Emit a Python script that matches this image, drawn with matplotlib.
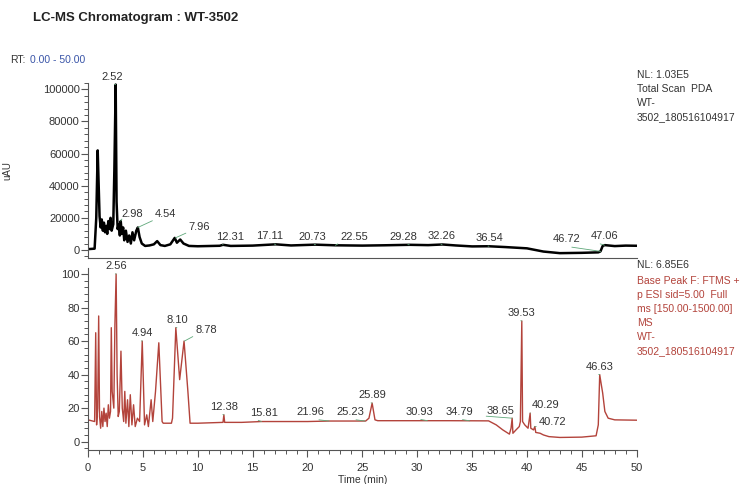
import matplotlib
matplotlib.use("Agg")
import matplotlib.pyplot as plt
from matplotlib.ticker import MultipleLocator

plt.rcParams['font.family'] = ['Liberation Sans', 'DejaVu Sans']

# --- data --------------------------------------------------------------
# top trace: total scan PDA (uAU)
pda_t = [0.0, 0.6, 0.75, 0.88, 0.95, 1.05, 1.15, 1.25, 1.35, 1.45, 1.55, 1.65,
         1.75, 1.85, 1.95, 2.05, 2.15, 2.3, 2.4, 2.52, 2.6, 2.7, 2.8, 2.9,
         2.98, 3.08, 3.2, 3.3, 3.45, 3.6, 3.75, 3.9, 4.05, 4.2, 4.4, 4.54,
         4.7, 4.9, 5.2, 5.6, 6.0, 6.3, 6.6, 7.0, 7.5, 7.9, 8.1, 8.4, 8.7,
         9.2, 10, 12, 12.3, 13, 15, 17.1, 18.5, 20.7, 22.5, 25, 27, 29.3,
         31, 32.3, 33.5, 35, 36.5, 38, 40, 41.5, 43, 45, 46.5, 46.7, 46.9,
         47.1, 48, 49, 50]
pda_v = [500, 800, 20000, 62000, 45000, 21000, 14000, 19000, 12000, 17000,
         11000, 15000, 10000, 18000, 13000, 20000, 12000, 16000, 50000,
         103000, 30000, 13000, 16000, 9000, 18000, 10000, 14000, 6000, 12000,
         5000, 9000, 4000, 11000, 6000, 12000, 14000, 8000, 4000, 2500, 2800,
         3500, 5500, 3000, 2500, 3500, 7500, 4500, 6500, 4000, 2500, 2300,
         2600, 3200, 2500, 2700, 3500, 2800, 3300, 2900, 2700, 2900, 3200,
         3000, 3400, 2800, 2200, 2300, 1800, 1000, -1000, -2000, -1800,
         -1500, -900, 2500, 3000, 2400, 2700, 2600]

# bottom trace: base peak, relative abundance
bp_t = [0.0, 0.6, 0.7, 0.78, 0.88, 0.97, 1.05, 1.15, 1.25, 1.35, 1.45, 1.55,
        1.65, 1.75, 1.85, 1.95, 2.05, 2.12, 2.2, 2.35, 2.45, 2.56, 2.65,
        2.75, 2.85, 3.0, 3.12, 3.25, 3.35, 3.45, 3.6, 3.72, 3.85, 4.0, 4.15,
        4.3, 4.5, 4.7, 4.94, 5.15, 5.35, 5.5, 5.75, 5.9, 6.15, 6.45, 6.75,
        6.85, 7.6, 7.7, 8.0, 8.35, 8.75, 9.1, 9.3, 10, 12.3, 12.38, 12.45,
        14, 15.8, 18, 20, 22, 25.3, 25.6, 25.89, 26.15, 26.4, 30, 33, 36.5,
        37.2, 37.8, 38.4, 38.55, 38.65, 38.72, 39.0, 39.3, 39.4, 39.53, 39.6,
        39.8, 40.1, 40.29, 40.35, 40.6, 40.72, 40.8, 41.2, 41.5, 42, 43, 45,
        46.3, 46.5, 46.63, 46.75, 46.9, 47.1, 47.4, 48, 50]
bp_v = [13, 12, 65, 10, 20, 75, 15, 8, 18, 9, 20, 12, 17, 9, 22, 14, 18, 68,
        30, 20, 70, 100, 40, 15, 18, 54, 20, 12, 30, 11, 25, 9, 28, 10, 22, 9,
        14, 12, 60, 10, 16, 9, 25, 12, 30, 59, 12, 11, 11, 14, 68, 37, 60, 30,
        11, 11, 11.5, 16, 11.5, 11.5, 12, 12, 12, 12.3, 12.3, 14, 23, 13,
        12.5, 12.5, 12.5, 12.4, 10, 7, 4.5, 8, 14, 5, 7, 9, 12, 72, 12, 10,
        8, 17, 8, 7, 9, 5.5, 5, 4, 3, 2.5, 2.7, 3.5, 10, 40, 35, 29, 18, 14,
        13, 12.8]

pda_labels = ["2.52", "2.98", "4.54", "7.96", "12.31", "17.11", "20.73",
              "22.55", "29.28", "32.26", "36.54", "46.72", "47.06"]
bp_labels = ["2.56", "4.94", "8.10", "8.78", "12.38", "15.81", "21.96",
             "25.23", "25.89", "30.93", "34.79", "38.65", "39.53", "40.29",
             "40.72", "46.63"]

# label text offsets (pixels) from the point on the trace
pda_offsets = [(-3, 3), (12, 2), (28, 8), (24, 6), (7, 3), (-6, 3), (-3, 3),
               (19, 3), (-6, 3), (0, 3), (0, 3), (-34, 7), (0, 4)]
bp_offsets = [(0, 3), (0, 3), (0, 3), (22, 6), (0, 3), (3, 4), (-19, 4),
              (-15, 4), (0, 3), (-8, 4), (-10, 4), (-12, 2), (0, 3), (15, 3),
              (18, 0), (0, 3)]

TXT = "#333333"
RED = "#b3433b"
LEAD = "#5fa87a"


def value_at(ts, vs, t):
    # value of the trace at the nearest stored point
    i = min(range(len(ts)), key=lambda k: abs(ts[k] - t))
    return vs[i]


def style_axis(ax):
    for s in ("top", "right"):
        ax.spines[s].set_visible(False)
    for s in ("left", "bottom"):
        ax.spines[s].set_color("#555555")
        ax.spines[s].set_linewidth(0.8)
    ax.tick_params(which="major", length=5, width=0.8, color="#555555",
                   labelsize=8, labelcolor=TXT, pad=1)
    ax.tick_params(which="minor", length=3, width=0.7, color="#555555")


def label_peaks(ax, ts, vs, labels, offsets):
    for lab, (dx, dy) in zip(labels, offsets):
        t = float(lab)
        v = value_at(ts, vs, t)
        ax.annotate(lab, xy=(t, v), xytext=(dx, dy), textcoords="offset pixels",
                    ha="center", va="bottom", fontsize=8, color=TXT,
                    arrowprops=dict(arrowstyle="-", color=LEAD, lw=0.6,
                                    shrinkA=0, shrinkB=0,
                                    relpos=(0.0, 0.0)))


fig = plt.figure(figsize=(7.55, 4.84), dpi=100)
fig.patch.set_facecolor("white")

ax1 = fig.add_axes([0.1166, 0.467, 0.7267, 0.3616])
ax2 = fig.add_axes([0.1166, 0.0702, 0.7267, 0.376])

ax1.plot(pda_t, pda_v, color="black", lw=1.8)
ax1.set_xlim(0, 50)
ax1.set_ylim(-5000, 104000)
ax1.yaxis.set_major_locator(MultipleLocator(20000))
ax1.yaxis.set_minor_locator(MultipleLocator(4000))
ax1.set_xticks([])
style_axis(ax1)
ax1.set_ylabel("uAU", fontsize=7, color=TXT, labelpad=22)
label_peaks(ax1, pda_t, pda_v, pda_labels, pda_offsets)

ax2.plot(bp_t, bp_v, color=RED, lw=1.0)
ax2.set_xlim(0, 50)
ax2.set_ylim(-5, 103.6)
ax2.xaxis.set_major_locator(MultipleLocator(5))
ax2.xaxis.set_minor_locator(MultipleLocator(1))
ax2.yaxis.set_major_locator(MultipleLocator(20))
ax2.yaxis.set_minor_locator(MultipleLocator(4))
style_axis(ax2)
ax2.tick_params(axis="x", which="major", pad=4)
ax2.set_xlabel("Time (min)", fontsize=7.5, color=TXT, labelpad=2)
label_peaks(ax2, bp_t, bp_v, bp_labels, bp_offsets)

# header texts
fig.text(33 / 755, 1 - 18 / 484, "LC-MS Chromatogram : WT-3502", fontsize=9.5,
         fontweight="bold", color="#222222", va="center")
fig.text(10 / 755, 1 - 60 / 484, "RT:", fontsize=7.5, color=TXT, va="center")
fig.text(30 / 755, 1 - 60 / 484, "0.00 - 50.00", fontsize=7.5, color="#3a55a8",
         va="center")

x_info = 637 / 755
top_info = ["NL: 1.03E5", "Total Scan  PDA", "WT-", "3502_180516104917"]
for i, s in enumerate(top_info):
    fig.text(x_info, 1 - (75 + 14 * i) / 484, s, fontsize=7.5, color=TXT,
             va="center")

bot_info = ["Base Peak F: FTMS +", "p ESI sid=5.00  Full",
            "ms [150.00-1500.00]", "MS", "WT-", "3502_180516104917"]
fig.text(x_info, 1 - 265 / 484, "NL: 6.85E6", fontsize=7.5, color=TXT,
         va="center")
for i, s in enumerate(bot_info):
    fig.text(x_info, 1 - (281 + 14 * i) / 484, s, fontsize=7.5, color=RED,
             va="center")

fig.savefig("out.png", dpi=100)
